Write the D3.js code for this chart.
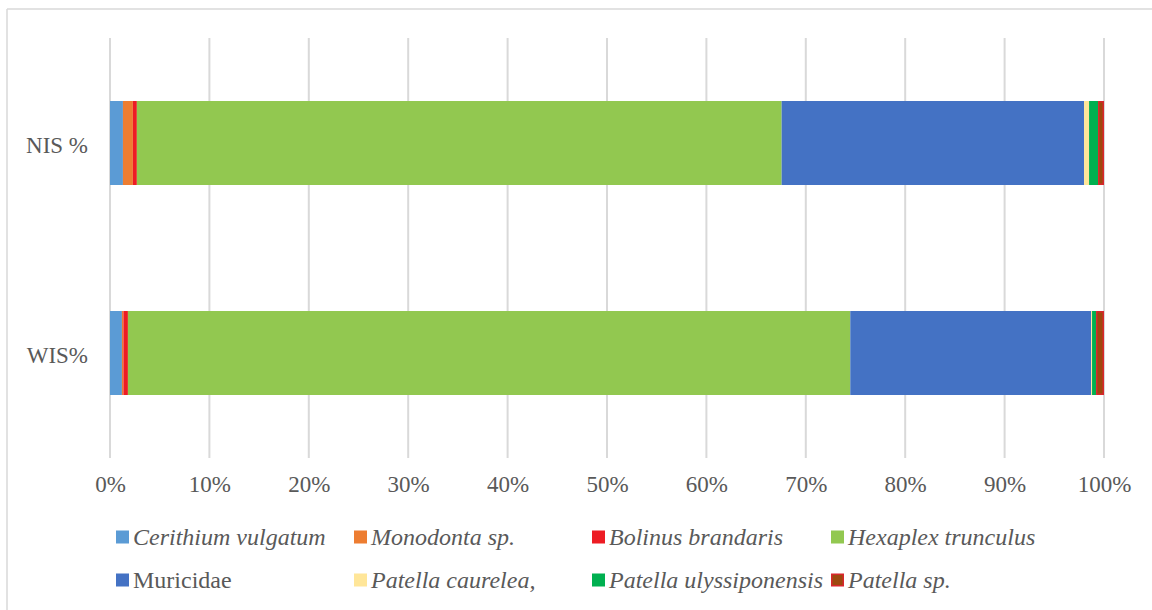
<!DOCTYPE html>
<html>
<head>
<meta charset="utf-8">
<script src="https://cdn.jsdelivr.net/npm/d3@7"></script>
<style>
  html, body { margin: 0; padding: 0; background: #fff; }
  svg { display: block; }
</style>
</head>
<body>
<svg id="chart" width="1152" height="610"></svg>
<script>
// Sites (rows, top to bottom)
const categories = ["NIS %", "WIS%"];

// Species making up each stacked bar (percent of total)
const species = [
  "Cerithium vulgatum", "Monodonta sp.", "Bolinus brandaris", "Hexaplex trunculus",
  "Muricidae", "Patella caurelea,", "Patella ulyssiponensis", "Patella sp."
];
const italicSpecies = [true, true, true, true, false, true, true, true];

const nisValues = [1.3, 1.0, 0.4, 64.8, 30.4, 0.5, 0.9, 0.6];
const wisValues = [1.2, 0.15, 0.45, 72.6, 24.2, 0.1, 0.4, 0.8];

const tickValues = [0, 10, 20, 30, 40, 50, 60, 70, 80, 90, 100];
const tickLabels = ["0%", "10%", "20%", "30%", "40%", "50%", "60%", "70%", "80%", "90%", "100%"];

const colors = ["#5B9BD5", "#ED7D31", "#ED1C24", "#92C850", "#4472C4", "#FFE699", "#00B050", "#9E480E"];
const strokes = [null, null, null, null, null, null, null, "#D9262C"];

const FONT = "'Liberation Serif'";
const TEXT_COLOR = "#595959";

const svg = d3.select("#chart");
const W = 1152, H = 610;
const margin = { left: 110, right: 48, top: 38, bottom: 152 };

// Outer chart-area frame (top and left edges visible)
svg.append("line").attr("x1", 7).attr("x2", W).attr("y1", 9).attr("y2", 9)
  .attr("stroke", "#D9D9D9").attr("stroke-width", 1.5);
svg.append("line").attr("x1", 7).attr("x2", 7).attr("y1", 9).attr("y2", H)
  .attr("stroke", "#D9D9D9").attr("stroke-width", 1.5);

const x = d3.scaleLinear().domain([0, 100]).range([margin.left, 1104]);
const y = d3.scaleBand().domain(categories)
  .range([margin.top, H - margin.bottom])
  .paddingInner(0.6).paddingOuter(0.3);

// Vertical gridlines
svg.append("g").selectAll("line").data(tickValues).join("line")
  .attr("x1", d => x(d)).attr("x2", d => x(d))
  .attr("y1", margin.top).attr("y2", H - margin.bottom)
  .attr("stroke", "#D9D9D9").attr("stroke-width", 2);

// Stack the series per row, normalised to 100%
const rows = [
  { cat: categories[0], vals: nisValues },
  { cat: categories[1], vals: wisValues }
];
const table = rows.map(r => {
  const o = { cat: r.cat };
  const total = d3.sum(r.vals);
  species.forEach((s, i) => o[s] = r.vals[i] / total * 100);
  return o;
});
const stacked = d3.stack().keys(species)(table);

const layers = svg.append("g").selectAll("g").data(stacked).join("g")
  .attr("fill", (d, i) => colors[i]);
layers.each(function(layer, i) {
  const sw = strokes[i] ? 1.5 : 0;
  d3.select(this).selectAll("rect").data(layer).join("rect")
    .attr("x", d => x(d[0]) + sw / 2)
    .attr("y", d => y(d.data.cat) + sw / 2)
    .attr("width", d => Math.max(0, x(d[1]) - x(d[0]) - sw))
    .attr("height", y.bandwidth() - sw)
    .attr("stroke", strokes[i] || "none")
    .attr("stroke-width", sw);
});

// X axis labels
const xAxis = d3.axisBottom(x).tickValues(tickValues)
  .tickFormat((d, i) => tickLabels[i]).tickSize(0).tickPadding(0);
const gx = svg.append("g").attr("transform", `translate(0, ${H - margin.bottom + 18})`).call(xAxis);
gx.attr("font-family", null);
gx.select(".domain").remove();
gx.selectAll("text").attr("font-size", 23).attr("dy", "0.71em")
  .style("font-family", FONT).attr("fill", TEXT_COLOR);

// Y axis labels
const yAxis = d3.axisLeft(y).tickSize(0).tickPadding(22);
const gy = svg.append("g").attr("transform", `translate(${margin.left}, 0)`).call(yAxis);
gy.attr("font-family", null);
gy.select(".domain").remove();
gy.selectAll("text").attr("font-size", 23).attr("dy", "0.42em")
  .style("font-family", FONT).attr("fill", TEXT_COLOR);

// Legend: two rows of four
const legendX = [116, 354, 592, 831];
const legendY = [537, 580];
const textOffset = 17;
const legend = svg.append("g").selectAll("g").data(species).join("g")
  .attr("transform", (d, i) => `translate(${legendX[i % 4]}, ${legendY[Math.floor(i / 4)]})`);
legend.append("rect")
  .attr("x", (d, i) => strokes[i] ? 0.75 : 0)
  .attr("y", (d, i) => -6.5 + (strokes[i] ? 0.75 : 0))
  .attr("width", (d, i) => strokes[i] ? 11.5 : 13)
  .attr("height", (d, i) => strokes[i] ? 11.5 : 13)
  .attr("fill", (d, i) => colors[i])
  .attr("stroke", (d, i) => strokes[i] || "none")
  .attr("stroke-width", (d, i) => strokes[i] ? 1.5 : 0);
legend.append("text")
  .attr("x", textOffset).attr("y", 0).attr("dy", "0.35em")
  .attr("font-size", 24)
  .style("font-family", FONT)
  .attr("fill", TEXT_COLOR)
  .attr("font-style", (d, i) => italicSpecies[i] ? "italic" : "normal")
  .text(d => d);
</script>
</body>
</html>
